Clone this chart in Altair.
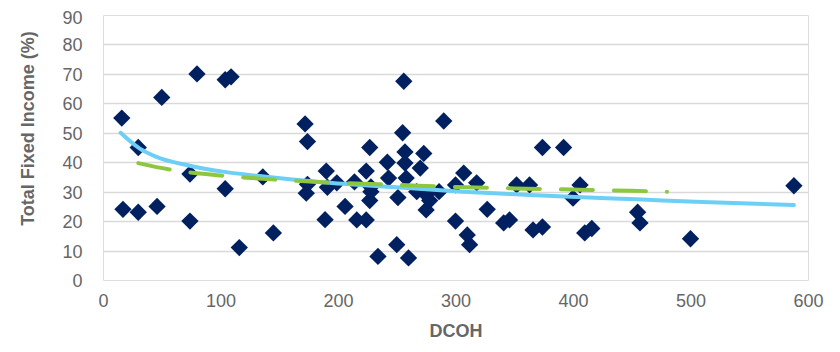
import altair as alt
import pandas as pd

# Scatter data (DCOH, Total Fixed Income %)
dcoh = [16, 17, 30, 30, 46, 50, 74, 74, 80, 104, 109, 104, 116, 145, 136,
        172, 174, 173, 174, 190, 189, 191, 199, 206, 214, 216, 224, 224, 227,
        228, 227, 234, 228, 242, 243, 251, 250, 256, 255, 257, 257, 258, 260,
        267, 270, 273, 275, 278, 275, 286, 290, 300, 300, 307, 310, 312, 318,
        327, 341, 346, 352, 363, 366, 374, 374, 392, 400, 406, 410, 416, 455,
        457, 500, 588]
income = [55, 24, 23, 45, 25, 62, 36, 20, 70, 68, 69, 31, 11, 16, 35,
          53, 47, 29.5, 32.5, 37, 20.5, 31.5, 33, 25, 33.3, 20.4, 20.4, 37, 45,
          31.6, 27, 8, 30, 40, 34.6, 28, 12, 67.5, 50, 43.5, 39.7, 34.6, 7.5,
          30, 38, 43, 29, 27, 23.8, 30, 54, 32.3, 20, 36.3, 15.3, 12, 33,
          24, 19.4, 20.4, 32.3, 32.3, 17, 18, 45, 45, 27.8, 32.3, 16, 17.5, 23,
          19.4, 14, 32]

# Blue solid trend
blue_x = [15, 31, 45, 74, 102, 131, 159, 187, 250, 306, 363, 403, 454, 510, 588]
blue_y = [50, 44.7, 41.9, 38.8, 36.8, 35.4, 34.2, 33.2, 31.5, 30.0, 28.9, 28.2,
          27.4, 26.5, 25.5]

# Green dashed trend
green_x = [30, 60, 100, 150, 200, 250, 300, 350, 400, 450, 480]
green_y = [39.7, 37.3, 35.5, 34.0, 33.0, 32.3, 31.6, 31.1, 30.7, 30.3, 30.0]

x_ticks = [0, 100, 200, 300, 400, 500, 600]
y_ticks = [0, 10, 20, 30, 40, 50, 60, 70, 80, 90]

pts = pd.DataFrame({"x": dcoh, "y": income})
blu = pd.DataFrame({"x": blue_x, "y": blue_y})
grn = pd.DataFrame({"x": green_x, "y": green_y})

FONT = "Liberation Sans"
GRAY = "#666666"

xs = alt.Scale(domain=[0, 600], nice=False, zero=False)
ys = alt.Scale(domain=[0, 90], nice=False)

xax = alt.Axis(values=x_ticks, grid=False, ticks=False,
               tickSize=0, domain=False, labelPadding=12, labelFontSize=18,
               labelColor=GRAY, labelFont=FONT, labelFlush=False,
               labelOverlap=False, title="DCOH", titleFont=FONT,
               titleFontSize=18, titleFontWeight="bold", titleColor=GRAY,
               titleBaseline="middle", titleY=51)
yax = alt.Axis(values=y_ticks, grid=True, gridColor="#D9D9D9",
               gridWidth=1.5,
               gridOpacity={"condition": {"test": "datum.value === 0 || datum.value === 90",
                                          "value": 0}, "value": 1},
               ticks=False, tickSize=0, domain=False,
               labelPadding=21, labelFontSize=18, labelColor=GRAY, labelFont=FONT,
               labelOverlap=False, labelFlush=False,
               labelOffset={"condition": {"test": "datum.value === 90", "value": 3.5},
                            "value": 1.5},
               title="Total Fixed Income (%)", titleFont=FONT, titleFontSize=18,
               titleFontWeight="bold", titleColor=GRAY, titleAngle=270,
               titleBaseline="middle", titleAlign="center", titleX=-75, titleY=113)

scatter = alt.Chart(pts).mark_point(
    shape="diamond", filled=True, size=300, color="#002060", opacity=1
).encode(
    x=alt.X("x:Q", scale=xs, axis=xax),
    y=alt.Y("y:Q", scale=ys, axis=yax),
)

blue = alt.Chart(blu).mark_line(
    color="#6DCFF6", strokeWidth=4, strokeCap="round", interpolate="monotone"
).encode(
    x=alt.X("x:Q", scale=xs, axis=xax),
    y=alt.Y("y:Q", scale=ys, axis=yax),
)

green = alt.Chart(grn).mark_line(
    color="#8DC63F", strokeWidth=4, strokeDash=[32, 21], strokeCap="round",
    interpolate="monotone"
).encode(
    x=alt.X("x:Q", scale=xs, axis=xax),
    y=alt.Y("y:Q", scale=ys, axis=yax),
)

chart = alt.layer(scatter, blue, green).properties(
    width=705, height=265,
    autosize=alt.AutoSizeParams(type="none"),
    padding={"left": 95, "top": 7, "right": 24, "bottom": 60},
).configure_view(
    stroke="#7F7F7F", strokeWidth=2
).configure(background="white")

chart.save("out.html", embed_options={"renderer": "svg", "actions": False})
